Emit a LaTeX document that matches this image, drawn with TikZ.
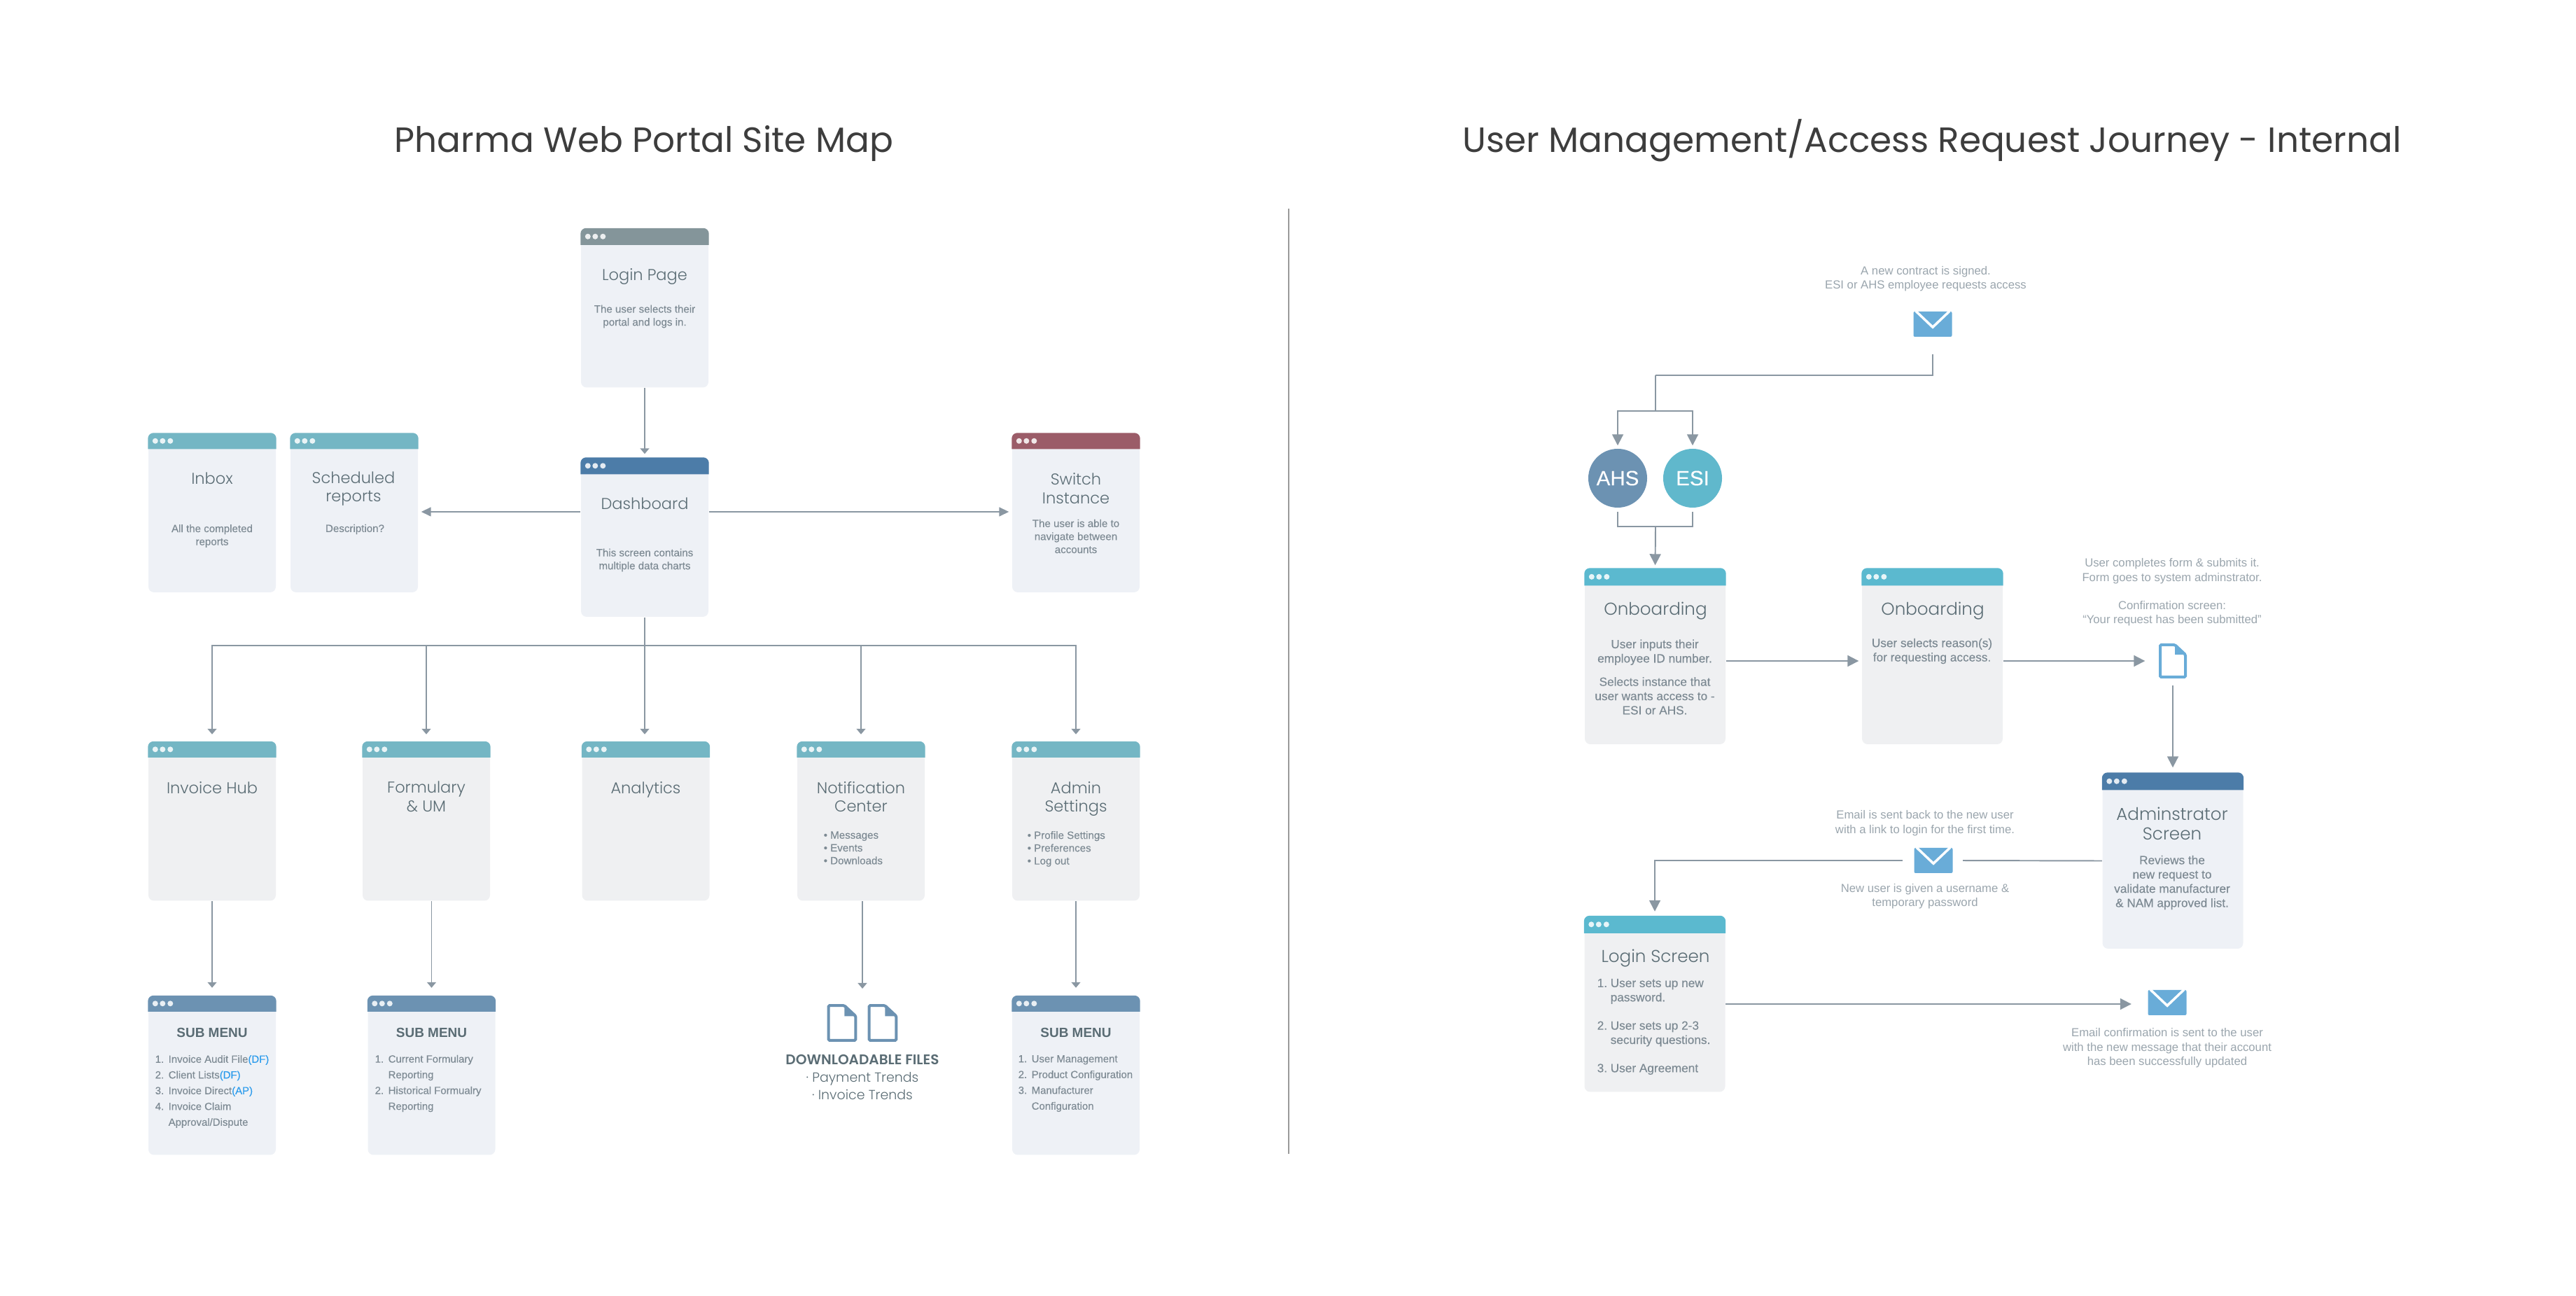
\documentclass[tikz,border=0pt]{standalone}
\usepackage{fontspec}
\setmainfont{Liberation Sans}
\newfontfamily\medfont[FakeBold=0.2]{Liberation Sans}
\newfontfamily\titlefont{Poppins}
\newfontfamily\headfont[UprightFont=* Light,BoldFont=* SemiBold]{Poppins}
\usetikzlibrary{arrows.meta,positioning,calc}
\definecolor{linegray}{HTML}{8A97A2}
\definecolor{rulegray}{HTML}{9A9A9A}
\definecolor{inkgray}{HTML}{3D3D3D}
\definecolor{headgray}{HTML}{5A6C74}
\definecolor{textgray}{HTML}{7D8A93}
\definecolor{notegray}{HTML}{9AA5AD}
\definecolor{dfblue}{HTML}{2D9CEC}
\definecolor{bodyblue}{HTML}{EEF1F6}
\definecolor{bodygray}{HTML}{EFF0F2}
\definecolor{barslate}{HTML}{84959A}
\definecolor{barteal}{HTML}{74B6C4}
\definecolor{barnavy}{HTML}{4C7CA8}
\definecolor{barwine}{HTML}{9B5C68}
\definecolor{barsteel}{HTML}{6C92B2}
\definecolor{barcyan}{HTML}{5BB9CF}
\definecolor{esicyan}{HTML}{60B8CC}
\definecolor{mailblue}{HTML}{69ACD8}
\tikzset{leftwin/.style={minimum width=1.82cm,minimum height=2.27cm}}
\tikzset{rightwin/.style={minimum width=2.01cm,minimum height=2.51cm}}
\tikzset{wintitle/.style={font=\headfont\fontsize{6.4}{7.6}\selectfont,text=headgray,align=center,inner sep=0pt}}
\tikzset{rtitle/.style={font=\headfont\fontsize{7}{8}\selectfont,text=headgray,align=center,inner sep=0pt}}
\tikzset{wintext/.style={font=\medfont\fontsize{4.3}{5.3}\selectfont,text=textgray,align=center,inner sep=0pt}}
\tikzset{rtext/.style={font=\medfont\fontsize{4.9}{5.8}\selectfont,text=textgray,align=center,inner sep=0pt}}
\tikzset{listtext/.style={font=\medfont\fontsize{4.25}{6.4}\selectfont,text=textgray,align=left,anchor=west,inner sep=0pt}}
\tikzset{notetext/.style={font=\fontsize{4.75}{5.8}\selectfont,text=notegray,align=center,inner sep=0pt}}
\tikzset{subtitle/.style={font=\fontsize{5.4}{6.5}\bfseries\selectfont,text=headgray,inner sep=0pt}}
\tikzset{maintitle/.style={font=\titlefont\fontsize{14.25}{17}\selectfont,text=inkgray,inner sep=0pt,anchor=base}}
\tikzset{flowv/.style={draw=linegray,line width=0.45pt,-{Triangle[length=0.08cm,width=0.13cm]},shorten >=0.05cm}}
\tikzset{flowh/.style={draw=linegray,line width=0.45pt,-{Triangle[length=0.14cm,width=0.13cm]},shorten >=0.04cm}}
\tikzset{flowr/.style={draw=linegray,line width=0.55pt,-{Triangle[length=0.16cm,width=0.16cm]},shorten >=0.04cm}}
\tikzset{plainline/.style={draw=linegray,line width=0.55pt}}
\tikzset{badge/.style={circle,minimum size=0.84cm,inner sep=0pt,text=white,font=\medfont\fontsize{8.4}{10}\selectfont}}
\newcommand{\nitem}[1]{\makebox[1.9mm][l]{#1}}
\newcommand{\screenbox}[6]{
  \node[#3,fill=#6,rounded corners=0.08cm,inner sep=0pt] (#1) at #2 {};
  \fill[#5] ($(#1.north west)+(0,-#4)$) [rounded corners=0.08cm] -- (#1.north west) -- (#1.north east) [sharp corners] -- ($(#1.north east)+(0,-#4)$) -- cycle;
  \foreach \dotx in {0.105,0.21,0.32}
    \fill[white!85!#5] ([shift={(\dotx,-0.5*#4)}]#1.north west) circle (0.04);
}
\newcommand{\mailicon}[3]{
  \node[fill=mailblue,rounded corners=0.02cm,minimum width=0.55cm,minimum height=0.36cm,inner sep=0pt] (#1) at (#2,#3) {};
  \draw[white,line width=0.035cm] ([xshift=0.04cm]#1.north west) -- ([yshift=-0.23cm]#1.north) -- ([xshift=-0.04cm]#1.north east);
}
\newcommand{\docicon}[5]{
  \begin{scope}[shift={(#2,#3)},scale=#4]
    \node[transform shape,minimum width=0.4cm,minimum height=0.5cm,inner sep=0pt] (#1) at (0,0) {};
    \draw[#5,line width=0.04cm,rounded corners=0.015cm,fill=white] (-0.18,-0.23) -- (-0.18,0.23) -- (0.03,0.23) -- (0.18,0.09) -- (0.18,-0.23) -- cycle;
    \fill[#5] (0.03,0.23) -- (0.18,0.09) -- (0.03,0.09) -- cycle;
  \end{scope}
}
\begin{document}
\begin{tikzpicture}
  \useasboundingbox (0,0) rectangle (36.8,18.5);
  % titles
  \node[maintitle] (titleleft) at (9.20,16.32) {Pharma Web Portal Site Map};
  \node[maintitle] (titleright) at (27.60,16.32) {User Management/Access Request Journey - Internal};
  \coordinate (divtop) at (18.41,15.52);
  \coordinate (divbot) at (18.41,2.02);
  \draw[rulegray,line width=0.5pt] (divtop) -- (divbot);

  % site map
  \screenbox{login}{(9.21,14.10)}{leftwin}{0.24}{barslate}{bodyblue}
  \screenbox{dash}{(9.21,10.825)}{leftwin}{0.24}{barnavy}{bodyblue}
  \screenbox{inbox}{(3.03,11.175)}{leftwin}{0.23}{barteal}{bodyblue}
  \screenbox{sched}{(5.06,11.175)}{leftwin}{0.23}{barteal}{bodyblue}
  \screenbox{switch}{(15.37,11.175)}{leftwin}{0.23}{barwine}{bodyblue}
  \screenbox{hub}{(3.03,6.77)}{leftwin}{0.23}{barteal}{bodygray}
  \screenbox{form}{(6.09,6.77)}{leftwin}{0.23}{barteal}{bodygray}
  \screenbox{analytics}{(9.225,6.77)}{leftwin}{0.23}{barteal}{bodygray}
  \screenbox{notif}{(12.30,6.77)}{leftwin}{0.23}{barteal}{bodygray}
  \screenbox{admin}{(15.37,6.77)}{leftwin}{0.23}{barteal}{bodygray}
  \screenbox{subhub}{(3.03,3.14)}{leftwin}{0.23}{barsteel}{bodyblue}
  \screenbox{subform}{(6.165,3.14)}{leftwin}{0.23}{barsteel}{bodyblue}
  \screenbox{subadmin}{(15.37,3.14)}{leftwin}{0.23}{barsteel}{bodyblue}

  \node[wintitle] (logintitle) at (9.21,14.55) {Login Page};
  \node[wintext] (logintext) at (9.21,13.98) {The user selects their\\portal and logs in.};
  \node[wintitle] (inboxtitle) at (3.03,11.67) {Inbox};
  \node[wintext] (inboxtext) at (3.03,10.845) {All the completed\\reports};
  \node[wintitle] (schedtitle) at (5.05,11.52) {Scheduled\\reports};
  \node[wintext] (schedtext) at (5.07,10.94) {Description?};
  \node[wintitle] (dashtitle) at (9.21,11.31) {Dashboard};
  \node[wintext] (dashtext) at (9.21,10.50) {This screen contains\\multiple data charts};
  \node[wintitle] (switchtitle) at (15.37,11.52) {Switch\\Instance};
  \node[wintext] (switchtext) at (15.37,10.84) {The user is able to\\navigate between\\accounts};
  \node[wintitle] (hubtitle) at (3.03,7.25) {Invoice Hub};
  \node[wintitle] (formtitle) at (6.09,7.12) {Formulary\\\& UM};
  \node[wintitle] (analyticstitle) at (9.225,7.22) {Analytics};
  \node[wintitle] (notiftitle) at (12.30,7.12) {Notification\\Center};
  \node[wintitle] (admintitle) at (15.37,7.09) {Admin\\Settings};
  \node[listtext,font=\medfont\fontsize{4.3}{5.2}\selectfont] (notiflist) at (11.76,6.39) {• Messages\\• Events\\• Downloads};
  \node[listtext,font=\medfont\fontsize{4.3}{5.2}\selectfont] (adminlist) at (14.67,6.375) {• Profile Settings\\• Preferences\\• Log out};

  \node[subtitle] (subhubtitle) at (3.03,3.75) {SUB MENU};
  \node[subtitle] (subformtitle) at (6.165,3.75) {SUB MENU};
  \node[subtitle] (subadmintitle) at (15.37,3.75) {SUB MENU};
  \node[listtext] (subhublist) at (2.21,2.91) {\nitem{1.}Invoice Audit File\textcolor{dfblue}{(DF)}\\\nitem{2.}Client Lists\textcolor{dfblue}{(DF)}\\\nitem{3.}Invoice Direct\textcolor{dfblue}{(AP)}\\\nitem{4.}Invoice Claim\\\nitem{}Approval/Dispute};
  \node[listtext] (subformlist) at (5.35,3.025) {\nitem{1.}Current Formulary\\\nitem{}Reporting\\\nitem{2.}Historical Formualry\\\nitem{}Reporting};
  \node[listtext] (subadminlist) at (14.54,3.025) {\nitem{1.}User Management\\\nitem{2.}Product Configuration\\\nitem{3.}Manufacturer\\\nitem{}Configuration};

  \docicon{filea}{12.03}{3.89}{1.08}{barsteel}
  \docicon{fileb}{12.61}{3.89}{1.08}{barsteel}
  \coordinate (filestop) at (12.32,4.16);
  \node[font=\headfont\bfseries\fontsize{5.7}{7}\selectfont,text=headgray,inner sep=0pt] (filestitle) at (12.32,3.37) {DOWNLOADABLE FILES};
  \node[font=\headfont\fontsize{5.4}{7.3}\selectfont,text=headgray,align=center,inner sep=0pt] (fileslist) at (12.32,2.99) {· Payment Trends\\· Invoice Trends};

  \coordinate (bus) at (9.21,9.28);
  \path (login) edge[flowv] (dash);
  \path ([yshift=0.015cm]dash.west |- sched.east) edge[flowh] ([yshift=0.015cm]sched.east);
  \path ([yshift=0.015cm]dash.east |- switch.west) edge[flowh] ([yshift=0.015cm]switch.west);
  \draw[linegray,line width=0.45pt] (dash.south) -- (bus);
  \draw[flowv,shorten >=0.10cm] (bus) -| (hub.north);
  \draw[flowv,shorten >=0.10cm] (bus) -| (form.north);
  \draw[flowv,shorten >=0.10cm] (bus) -- (bus |- analytics.north);
  \draw[flowv,shorten >=0.10cm] (bus) -| (notif.north);
  \draw[flowv,shorten >=0.10cm] (bus) -| (admin.north);
  \path (hub) edge[flowv,shorten >=0.11cm] (subhub);
  \draw[flowv,shorten >=0.11cm] (subform |- form.south) -- (subform.north);
  \draw[flowv,shorten >=0.22cm] (filestop |- notif.south) -- (filestop);
  \path (admin) edge[flowv,shorten >=0.11cm] (subadmin);

  % access request journey
  \node[notetext] (contracttext) at (27.51,14.52) {A new contract is signed.\\ESI or AHS employee requests access};
  \mailicon{mailstart}{27.61}{13.87}
  \node[badge,fill=barsteel] (ahs) at (23.11,11.67) {AHS};
  \node[badge,fill=esicyan] (esi) at (24.18,11.67) {ESI};
  \screenbox{onboarda}{(23.645,9.125)}{rightwin}{0.25}{barcyan}{bodygray}
  \screenbox{onboardb}{(27.605,9.125)}{rightwin}{0.25}{barcyan}{bodygray}
  \screenbox{adminscr}{(31.04,6.205)}{rightwin}{0.25}{barnavy}{bodyblue}
  \screenbox{loginscr}{(23.64,4.16)}{rightwin}{0.25}{barcyan}{bodygray}
  \node[rtitle] (onboardatitle) at (23.65,9.77) {Onboarding};
  \node[rtext] (onboardatext) at (23.64,8.83) {User inputs their\\employee ID number.\\[0.13cm]Selects instance that\\user wants access to -\\ESI or AHS.};
  \node[rtitle] (onboardbtitle) at (27.61,9.77) {Onboarding};
  \node[rtext] (onboardbtext) at (27.60,9.20) {User selects reason(s)\\for requesting access.};
  \node[notetext] (formtext) at (31.03,10.04) {User completes form \& submits it.\\Form goes to system adminstrator.\\[0.2cm]Confirmation screen:\\“Your request has been submitted”};
  \docicon{fileform}{31.04}{9.06}{1}{mailblue}
  \node[rtitle] (adminscrtitle) at (31.03,6.74) {Adminstrator\\Screen};
  \node[rtext] (adminscrtext) at (31.03,5.895) {Reviews the\\new request to\\validate manufacturer\\\& NAM approved list.};
  \node[notetext] (emailtext) at (27.50,6.745) {Email is sent back to the new user\\with a link to login for the first time.};
  \mailicon{mailback}{27.62}{6.21}
  \node[notetext] (usertext) at (27.50,5.70) {New user is given a username \&\\temporary password};
  \node[rtitle] (loginscrtitle) at (23.65,4.81) {Login Screen};
  \node[listtext,font=\medfont\fontsize{4.9}{5.8}\selectfont] (loginscrlist) at (22.81,3.835) {\nitem{1.}User sets up new\\\nitem{}password.\\[0.2cm]\nitem{2.}User sets up 2-3\\\nitem{}security questions.\\[0.2cm]\nitem{3.}User Agreement};
  \mailicon{maildone}{30.96}{4.18}
  \node[notetext] (donetext) at (30.96,3.53) {Email confirmation is sent to the user\\with the new message that their account\\has been successfully updated};

  \coordinate (splittop) at (23.65,13.14);
  \coordinate (splitbot) at (23.65,12.63);
  \coordinate (joinbot) at (23.65,10.98);
  \draw[plainline,shorten <=0.24cm] (mailstart) |- (splittop);
  \draw[plainline] (splittop) -- (splitbot);
  \draw[flowr] (splitbot) -| (ahs.north);
  \draw[flowr] (splitbot) -| (esi.north);
  \draw[plainline,shorten <=0.05cm] (ahs.south) |- (joinbot);
  \draw[plainline,shorten <=0.05cm] (esi.south) |- (joinbot);
  \draw[flowr] (joinbot) -- (onboarda.north);
  \draw[flowr] ([yshift=-0.065cm]onboarda.east) -- ([yshift=-0.065cm]onboardb.west);
  \draw[flowr,shorten >=0.19cm] ([yshift=-0.065cm]onboardb.east) -- (fileform.west);
  \draw[flowr,shorten <=0.09cm,shorten >=0.07cm] (fileform.south) -- (adminscr.north);
  \draw[plainline,shorten >=0.14cm] (adminscr.west) -- (mailback.east);
  \draw[flowr,shorten <=0.16cm,shorten >=0.06cm] (mailback.west) -| (loginscr.north);
  \draw[flowr,shorten >=0.23cm] (loginscr.east) -- (loginscr.east -| maildone.west);
\end{tikzpicture}
\end{document}
